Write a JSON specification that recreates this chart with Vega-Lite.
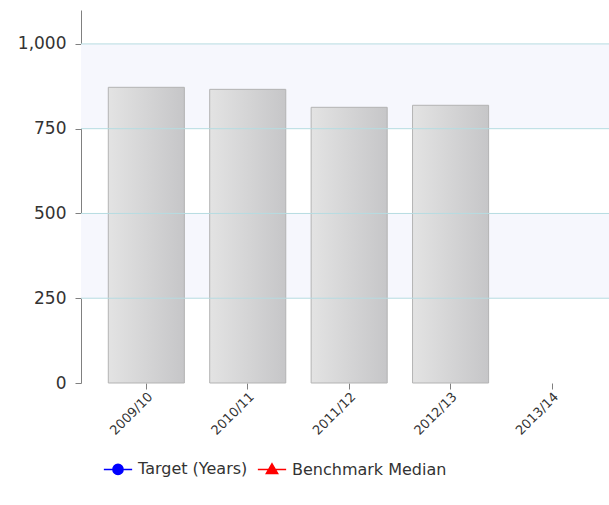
{
  "$schema": "https://vega.github.io/schema/vega-lite/v6.json",
  "width": 528,
  "height": 373,
  "autosize": "none",
  "padding": {"left": 81, "top": 10, "right": 0, "bottom": 122},
  "background": "white",
  "config": {
    "font": "DejaVu Sans",
    "view": {"stroke": null},
    "axis": {"labelFont": "DejaVu Sans", "labelColor": "#333333", "domainColor": "#808080", "tickColor": "#808080"}
  },
  "datasets": {
    "bars": [
      {"year": "2009/10", "value": 872},
      {"year": "2010/11", "value": 866},
      {"year": "2011/12", "value": 813},
      {"year": "2012/13", "value": 819},
      {"year": "2013/14", "value": null}
    ],
    "bands": [
      {"from": 750, "to": 1000},
      {"from": 250, "to": 500}
    ],
    "series": [
      {"series": "Target (Years)", "value": null},
      {"series": "Benchmark Median", "value": null}
    ]
  },
  "layer": [
    {
      "data": {"name": "bands"},
      "mark": {"type": "rect", "color": "#f6f7fd"},
      "encoding": {
        "y": {
          "field": "from",
          "type": "quantitative",
          "scale": {"domain": [0, 1100], "nice": false},
          "title": null,
          "axis": {
            "values": [0, 250, 500, 750, 1000],
            "format": ",d",
            "labelFontSize": 17,
            "tickSize": 6,
            "labelPadding": 9,
            "grid": false
          }
        },
        "y2": {"field": "to"}
      }
    },
    {
      "data": {"name": "bars"},
      "mark": {
        "type": "bar",
        "stroke": "#b3b3b3",
        "strokeWidth": 1,
        "color": {
          "gradient": "linear",
          "x1": 0, "x2": 1, "y1": 0, "y2": 0,
          "stops": [
            {"offset": 0, "color": "#e3e3e3"},
            {"offset": 1, "color": "#c6c6c8"}
          ]
        }
      },
      "encoding": {
        "x": {
          "field": "year",
          "type": "nominal",
          "sort": null,
          "scale": {
            "domain": ["2009/10", "2010/11", "2011/12", "2012/13", "2013/14"],
            "paddingInner": 0.25,
            "paddingOuter": 0.228,
            "align": 0.59
          },
          "title": null,
          "axis": {
            "labelAngle": -45,
            "labelFontSize": 13,
            "tickSize": 6,
            "labelPadding": 1,
            "domain": false
          }
        },
        "y": {
          "field": "value",
          "type": "quantitative"
        }
      }
    },
    {
      "data": {"name": "bands"},
      "mark": {"type": "rule", "color": "#b6dce1", "strokeWidth": 1},
      "encoding": {
        "y": {"field": "to", "type": "quantitative"}
      }
    },
    {
      "data": {"name": "bands"},
      "mark": {"type": "rule", "color": "#b6dce1", "strokeWidth": 1},
      "encoding": {
        "y": {"field": "from", "type": "quantitative"}
      }
    },
    {
      "mark": {"type": "rule", "color": "#808080", "strokeWidth": 1},
      "encoding": {
        "y": {"datum": 0, "type": "quantitative"}
      }
    },
    {
      "data": {"name": "series"},
      "mark": {"type": "point", "filled": true, "opacity": 1, "strokeWidth": 1.5},
      "encoding": {
        "y": {"field": "value", "type": "quantitative"},
        "fill": {
          "field": "series",
          "type": "nominal",
          "scale": {"domain": ["Target (Years)", "Benchmark Median"], "range": ["#0000ff", "#ff0000"]},
          "legend": {
            "title": null,
            "orient": "none",
            "direction": "horizontal",
            "legendX": 22,
            "legendY": 444,
            "labelFontSize": 16,
            "labelColor": "#333333",
            "labelFont": "DejaVu Sans",
            "symbolSize": 800,
            "symbolStrokeWidth": 1.5,
            "symbolOpacity": 1,
            "labelOffset": 5,
            "columnPadding": 6
          }
        },
        "stroke": {
          "field": "series",
          "type": "nominal",
          "scale": {"domain": ["Target (Years)", "Benchmark Median"], "range": ["#0000ff", "#ff0000"]}
        },
        "shape": {
          "field": "series",
          "type": "nominal",
          "scale": {
            "domain": ["Target (Years)", "Benchmark Median"],
            "range": [
              "M-1,0L1,0M-0.36,0A0.36,0.36,0,1,1,0.36,0A0.36,0.36,0,1,1,-0.36,0Z",
              "M-1,0L1,0M0,-0.4L0.4,0.28L-0.4,0.28Z"
            ]
          }
        }
      }
    }
  ]
}
